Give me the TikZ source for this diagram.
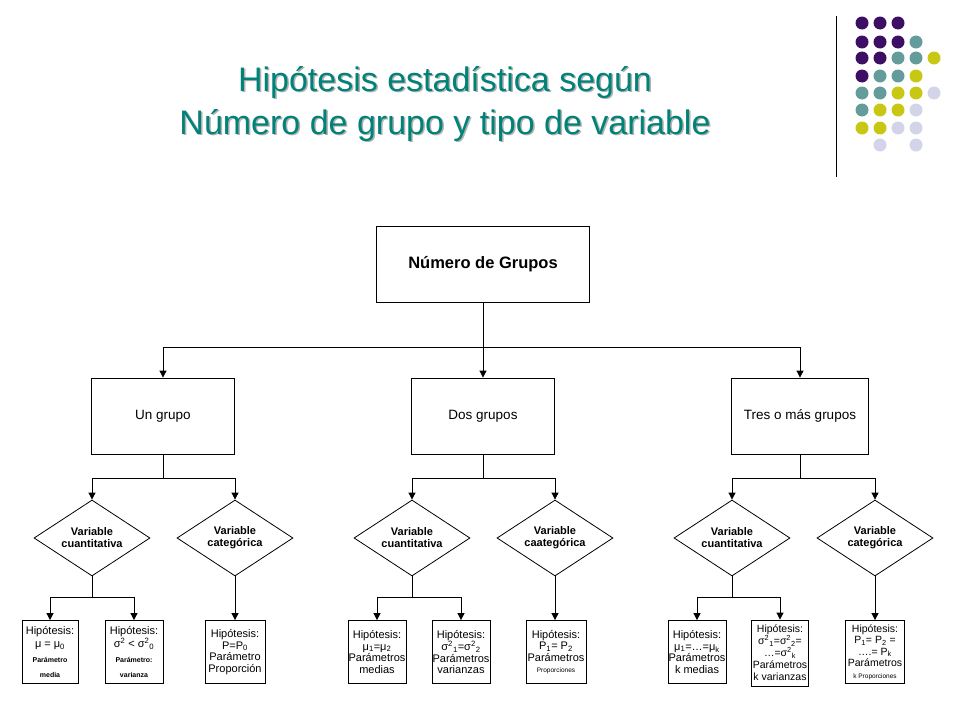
\documentclass[tikz,border=0pt]{standalone}
\usepackage{fontspec}
\setmainfont{Liberation Sans}
\usetikzlibrary{shapes.geometric,arrows.meta}
\definecolor{pur}{RGB}{60,15,100}
\definecolor{tea}{RGB}{100,155,155}
\definecolor{yel}{RGB}{200,200,20}
\definecolor{lav}{RGB}{212,212,232}
\definecolor{ttl}{RGB}{0,130,120}
\newcommand{\sps}[1]{\textsuperscript{#1}}
\newcommand{\sbs}[1]{\textsubscript{#1}}
\begin{document}
\begin{tikzpicture}[x=1pt,y=-1pt,
  box/.style={draw,thick,fill=white,inner sep=0pt,font=\fontsize{13.5}{15}\selectfont,align=center},
  dia/.style={draw,thick,diamond,aspect=1.55,minimum width=116pt,minimum height=76pt,inner sep=0pt,align=center,font=\fontsize{11}{12}\selectfont\bfseries},
  hyp/.style={draw,thick,inner sep=0pt,minimum height=63pt,align=center,font=\fontsize{11}{11.5}\selectfont},
  arr/.style={-{Triangle[length=7pt,width=7pt]},thick},
  ln/.style={thick},
  dot/.style={circle,inner sep=0pt,minimum size=13pt}]
\useasboundingbox (0,0) rectangle (960,720);
% title
\foreach \dx/\c in {1.5/gray!60, 0/ttl}{
\node[text=\c,font=\fontsize{34}{43}\selectfont,align=center] at (445+\dx,104+\dx) {Hipótesis estadística según\\Número de grupo y tipo de variable};}
% decoration
\draw (836,16) -- (836,177);
\foreach \x/\y/\c in {862/23/pur,880/23/pur,898/23/pur,
 862/42/pur,880/42/pur,898/42/pur,916/42/tea,
 862/58/pur,880/58/pur,898/58/tea,916/58/tea,934/58/yel,
 862/76/pur,880/76/tea,898/76/tea,916/76/yel,
 862/93/tea,880/93/tea,898/93/yel,916/93/yel,934/93/lav,
 862/110/tea,880/110/yel,898/110/yel,916/110/lav,
 862/128/yel,880/128/yel,898/128/lav,916/128/lav,
 880/145/lav,916/145/lav}
 \node[dot,fill=\c] at (\x,\y) {};
% main boxes
\node[box,minimum width=213pt,minimum height=76pt,font=\fontsize{16.5}{18}\selectfont\bfseries] (top) at (483,264) {Número de Grupos};
\node[box,minimum width=143pt,minimum height=76pt] (g1) at (163,416) {Un grupo};
\node[box,minimum width=143pt,minimum height=76pt] (g2) at (483,416) {Dos grupos};
\node[box,minimum width=137pt,minimum height=76pt] (g3) at (800,416) {Tres o más grupos};
\coordinate (s) at (483,347);
\draw[ln] (top.south) -- (s);
\draw[ln] (g1 |- s) -- (g3 |- s);
\draw[arr] (g1 |- s) -- (g1.north);
\draw[arr] (s) -- (g2.north);
\draw[arr] (g3 |- s) -- (g3.north);
% diamonds
\node[dia] (d1) at (92,538) {Variable\\cuantitativa};
\node[dia] (d2) at (235,538) {Variable\\categórica};
\node[dia] (d3) at (412,538) {Variable\\cuantitativa};
\node[dia] (d4) at (555,538) {Variable\\caategórica};
\node[dia] (d5) at (732,538) {Variable\\cuantitativa};
\node[dia] (d6) at (875,538) {Variable\\categórica};
\foreach \g/\a/\b in {g1/d1/d2,g2/d3/d4,g3/d5/d6}{
  \draw[ln] (\g.south) -- (\g.south |- 0,478);
  \draw[ln] (\a |- 0,478) -- (\b |- 0,478);
  \draw[arr] (\a |- 0,478) -- (\a.north);
  \draw[arr] (\b |- 0,478) -- (\b.north);
}
% hypotheses
\newcommand{\sm}{\fontsize{7}{8}\selectfont\bfseries}
\newcommand{\tn}{\fontsize{6.5}{7}\selectfont}
\node[hyp,minimum width=56pt] (h1) at (50,652) {Hipótesis:\\[2pt]μ = μ\sbs{0}\\[3pt]{\sm Parámetro}\\[4pt]{\sm media}};
\node[hyp,minimum width=58pt] (h2) at (134,652) {Hipótesis:\\[1pt]σ\sps{2} < σ\sps{2}\sbs{0}\\[3pt]{\sm Parámetro:}\\[4pt]{\sm varianza}};
\node[hyp,minimum width=60pt] (h3) at (235,652) {Hipótesis:\\P=P\sbs{0}\\Parámetro\\Proporción};
\node[hyp,minimum width=58pt] (h4) at (377,652) {Hipótesis:\\μ\sbs{1}=μ\sbs{2}\\Parámetros\\medias};
\node[hyp,minimum width=58pt] (h5) at (461,652) {Hipótesis:\\σ\sps{2}\sbs{1}=σ\sps{2}\sbs{2}\\Parámetros\\varianzas};
\node[hyp,minimum width=60pt] (h6) at (556,652) {Hipótesis:\\P\sbs{1}= P\sbs{2}\\Parámetros\\{\tn Proporciones}};
\node[hyp,minimum width=58pt] (h7) at (697,652) {Hipótesis:\\μ\sbs{1}=…=μ\sbs{k}\\Parámetros\\k medias};
\node[hyp,minimum width=57pt,minimum height=66pt,font=\fontsize{10.5}{12}\selectfont] (h8) at (780,653) {Hipótesis:\\σ\sps{2}\sbs{1}=σ\sps{2}\sbs{2}=\\…=σ\sps{2}\sbs{k}\\Parámetros\\k varianzas};
\node[hyp,minimum width=59pt,font=\fontsize{10.5}{11.5}\selectfont] (h9) at (875,652) {Hipótesis:\\P\sbs{1}= P\sbs{2} =\\….= P\sbs{k}\\Parámetros\\{\tn k Proporciones}};
\foreach \d/\a/\b in {d1/h1/h2,d3/h4/h5,d5/h7/h8}{
  \draw[ln] (\d.south) -- (\d.south |- 0,597);
  \draw[ln] (\a |- 0,597) -- (\b |- 0,597);
  \draw[arr] (\a |- 0,597) -- (\a.north);
  \draw[arr] (\b |- 0,597) -- (\b.north);
}
\foreach \d/\h in {d2/h3,d4/h6,d6/h9} \draw[arr] (\d.south) -- (\d.south |- \h.north);
\end{tikzpicture}
\end{document}
